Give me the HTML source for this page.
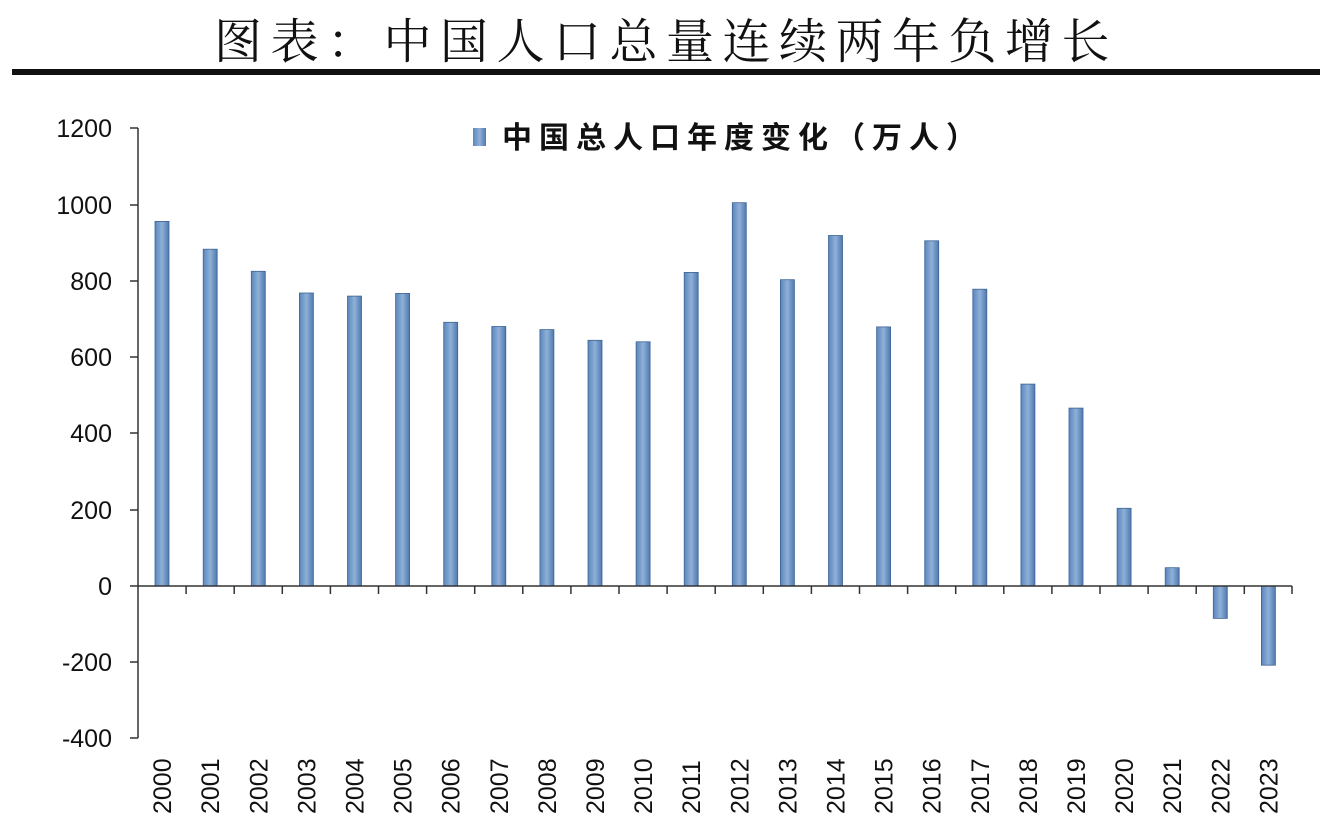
<!DOCTYPE html>
<html><head><meta charset="utf-8"><style>
html,body{margin:0;padding:0;background:#fff;}
svg{display:block;}
</style></head><body>
<svg width="1320" height="831" xmlns="http://www.w3.org/2000/svg">
<defs><linearGradient id="g" x1="0" x2="1"><stop offset="0" stop-color="#5b86bd"/><stop offset="0.5" stop-color="#8fb0d8"/><stop offset="1" stop-color="#4f79ae"/></linearGradient></defs>
<rect width="1320" height="831" fill="#fff"/>
<text x="666" y="58" text-anchor="middle" font-family="'Noto Serif CJK SC','Noto Sans CJK SC',serif" font-size="48" fill="#111" letter-spacing="8.5">图表：中国人口总量连续两年负增长</text>
<rect x="12" y="69" width="1308" height="6" fill="#111"/>
<g font-family="'Liberation Sans',sans-serif" font-size="25" fill="#111" text-anchor="end">
<text x="112" y="137">1200</text><text x="112" y="214">1000</text><text x="112" y="290">800</text><text x="112" y="366">600</text><text x="112" y="442">400</text><text x="112" y="519">200</text><text x="112" y="595">0</text><text x="112" y="671">-200</text><text x="112" y="747">-400</text>
</g>
<g stroke="#333" stroke-width="1.5">
<line x1="138" y1="128" x2="138" y2="738"/>
<line x1="130" y1="128" x2="138" y2="128"/><line x1="130" y1="205" x2="138" y2="205"/><line x1="130" y1="281" x2="138" y2="281"/><line x1="130" y1="357" x2="138" y2="357"/><line x1="130" y1="433" x2="138" y2="433"/><line x1="130" y1="510" x2="138" y2="510"/><line x1="130" y1="586" x2="138" y2="586"/><line x1="130" y1="662" x2="138" y2="662"/><line x1="130" y1="738" x2="138" y2="738"/>
</g>
<g fill="url(#g)" stroke="#3d6597" stroke-width="0.8">
<rect x="155" y="221.4" width="14" height="364.6"/>
<rect x="203.2" y="249.2" width="14" height="336.8"/>
<rect x="251.3" y="271.3" width="14" height="314.7"/>
<rect x="299.4" y="293" width="14" height="293"/>
<rect x="347.5" y="296.1" width="14" height="289.9"/>
<rect x="395.6" y="293.4" width="14" height="292.6"/>
<rect x="443.7" y="322.3" width="14" height="263.7"/>
<rect x="491.8" y="326.5" width="14" height="259.5"/>
<rect x="539.9" y="329.6" width="14" height="256.4"/>
<rect x="588" y="340.3" width="14" height="245.7"/>
<rect x="636.1" y="341.8" width="14" height="244.2"/>
<rect x="684.2" y="272.4" width="14" height="313.6"/>
<rect x="732.3" y="202.7" width="14" height="383.3"/>
<rect x="780.4" y="279.7" width="14" height="306.3"/>
<rect x="828.5" y="235.5" width="14" height="350.5"/>
<rect x="876.6" y="326.9" width="14" height="259.1"/>
<rect x="924.7" y="240.8" width="14" height="345.2"/>
<rect x="972.8" y="289.2" width="14" height="296.8"/>
<rect x="1020.9" y="384.1" width="14" height="201.9"/>
<rect x="1069" y="408.1" width="14" height="177.9"/>
<rect x="1117.1" y="508.3" width="14" height="77.7"/>
<rect x="1165.2" y="567.7" width="14" height="18.3"/>
<rect x="1213.3" y="586" width="14" height="32.4"/>
<rect x="1261.4" y="586" width="14" height="79.2"/>
</g>
<line x1="138" y1="586" x2="1292" y2="586" stroke="#333" stroke-width="1.5"/>
<g stroke="#333" stroke-width="1.5">
<line x1="186.1" y1="586" x2="186.1" y2="594"/><line x1="234.2" y1="586" x2="234.2" y2="594"/><line x1="282.3" y1="586" x2="282.3" y2="594"/><line x1="330.4" y1="586" x2="330.4" y2="594"/><line x1="378.5" y1="586" x2="378.5" y2="594"/><line x1="426.6" y1="586" x2="426.6" y2="594"/><line x1="474.7" y1="586" x2="474.7" y2="594"/><line x1="522.8" y1="586" x2="522.8" y2="594"/><line x1="570.9" y1="586" x2="570.9" y2="594"/><line x1="619" y1="586" x2="619" y2="594"/><line x1="667.1" y1="586" x2="667.1" y2="594"/><line x1="715.2" y1="586" x2="715.2" y2="594"/><line x1="763.3" y1="586" x2="763.3" y2="594"/><line x1="811.4" y1="586" x2="811.4" y2="594"/><line x1="859.5" y1="586" x2="859.5" y2="594"/><line x1="907.6" y1="586" x2="907.6" y2="594"/><line x1="955.7" y1="586" x2="955.7" y2="594"/><line x1="1003.8" y1="586" x2="1003.8" y2="594"/><line x1="1051.9" y1="586" x2="1051.9" y2="594"/><line x1="1100" y1="586" x2="1100" y2="594"/><line x1="1148.1" y1="586" x2="1148.1" y2="594"/><line x1="1196.2" y1="586" x2="1196.2" y2="594"/><line x1="1244.3" y1="586" x2="1244.3" y2="594"/><line x1="1292" y1="586" x2="1292" y2="594"/>
</g>
<g font-family="'Liberation Sans',sans-serif" font-size="25" fill="#111">
<text transform="translate(171,814) rotate(-90)">2000</text>
<text transform="translate(219.2,814) rotate(-90)">2001</text>
<text transform="translate(267.3,814) rotate(-90)">2002</text>
<text transform="translate(315.4,814) rotate(-90)">2003</text>
<text transform="translate(363.5,814) rotate(-90)">2004</text>
<text transform="translate(411.6,814) rotate(-90)">2005</text>
<text transform="translate(459.7,814) rotate(-90)">2006</text>
<text transform="translate(507.8,814) rotate(-90)">2007</text>
<text transform="translate(555.9,814) rotate(-90)">2008</text>
<text transform="translate(604,814) rotate(-90)">2009</text>
<text transform="translate(652.1,814) rotate(-90)">2010</text>
<text transform="translate(700.2,814) rotate(-90)">2011</text>
<text transform="translate(748.3,814) rotate(-90)">2012</text>
<text transform="translate(796.4,814) rotate(-90)">2013</text>
<text transform="translate(844.5,814) rotate(-90)">2014</text>
<text transform="translate(892.6,814) rotate(-90)">2015</text>
<text transform="translate(940.7,814) rotate(-90)">2016</text>
<text transform="translate(988.8,814) rotate(-90)">2017</text>
<text transform="translate(1036.9,814) rotate(-90)">2018</text>
<text transform="translate(1085,814) rotate(-90)">2019</text>
<text transform="translate(1133.1,814) rotate(-90)">2020</text>
<text transform="translate(1181.2,814) rotate(-90)">2021</text>
<text transform="translate(1229.3,814) rotate(-90)">2022</text>
<text transform="translate(1277.4,814) rotate(-90)">2023</text>
</g>
<rect x="473" y="128" width="13" height="18" fill="url(#g)"/>
<text x="502" y="148" font-family="'Noto Sans CJK SC',sans-serif" font-weight="bold" font-size="30" fill="#111" letter-spacing="7">中国总人口年度变化（万人）</text>
</svg>
</body></html>
